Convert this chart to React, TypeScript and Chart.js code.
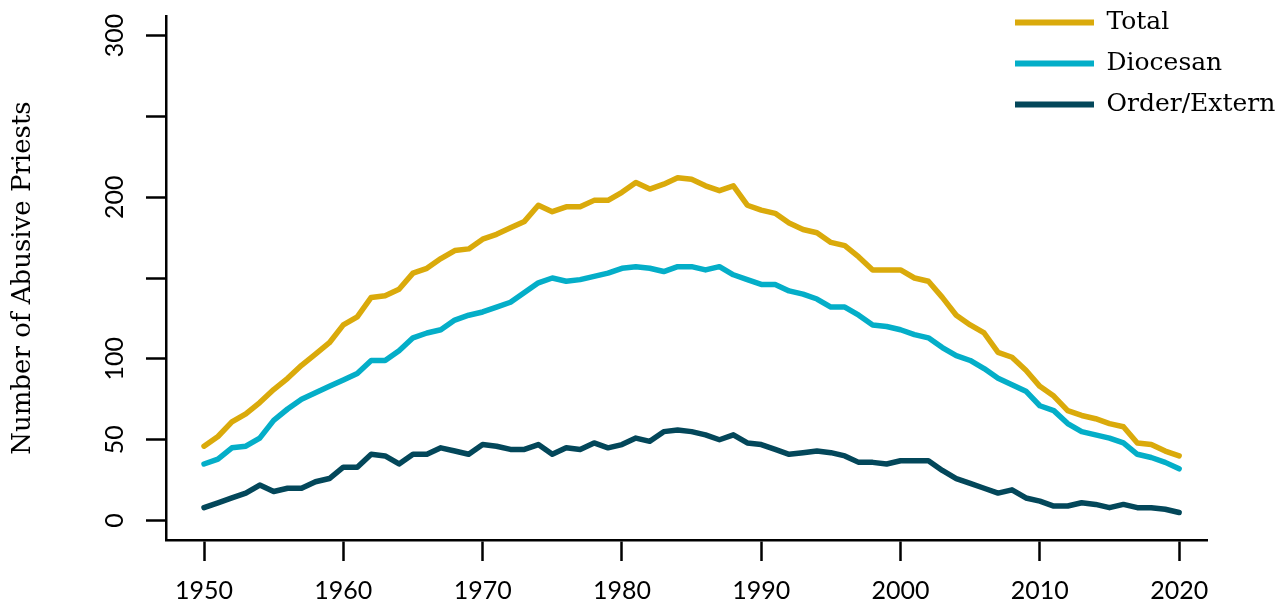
import { useEffect, useRef } from "react";
import { Chart, registerables } from "chart.js";

Chart.register(...registerables);

const years = [
  1950, 1951, 1952, 1953, 1954, 1955, 1956, 1957, 1958, 1959,
  1960, 1961, 1962, 1963, 1964, 1965, 1966, 1967, 1968, 1969,
  1970, 1971, 1972, 1973, 1974, 1975, 1976, 1977, 1978, 1979,
  1980, 1981, 1982, 1983, 1984, 1985, 1986, 1987, 1988, 1989,
  1990, 1991, 1992, 1993, 1994, 1995, 1996, 1997, 1998, 1999,
  2000, 2001, 2002, 2003, 2004, 2005, 2006, 2007, 2008, 2009,
  2010, 2011, 2012, 2013, 2014, 2015, 2016, 2017, 2018, 2019, 2020,
];

const totalValues = [
  46, 52, 61, 66, 73, 81, 88, 96, 103, 110,
  121, 126, 138, 139, 143, 153, 156, 162, 167, 168,
  174, 177, 181, 185, 195, 191, 194, 194, 198, 198,
  203, 209, 205, 208, 212, 211, 207, 204, 207, 195,
  192, 190, 184, 180, 178, 172, 170, 163, 155, 155,
  155, 150, 148, 138, 127, 121, 116, 104, 101, 93,
  83, 77, 68, 65, 63, 60, 58, 48, 47, 43, 40,
];

const diocesanValues = [
  35, 38, 45, 46, 51, 62, 69, 75, 79, 83,
  87, 91, 99, 99, 105, 113, 116, 118, 124, 127,
  129, 132, 135, 141, 147, 150, 148, 149, 151, 153,
  156, 157, 156, 154, 157, 157, 155, 157, 152, 149,
  146, 146, 142, 140, 137, 132, 132, 127, 121, 120,
  118, 115, 113, 107, 102, 99, 94, 88, 84, 80,
  71, 68, 60, 55, 53, 51, 48, 41, 39, 36, 32,
];

const orderValues = [
  8, 11, 14, 17, 22, 18, 20, 20, 24, 26,
  33, 33, 41, 40, 35, 41, 41, 45, 43, 41,
  47, 46, 44, 44, 47, 41, 45, 44, 48, 45,
  47, 51, 49, 55, 56, 55, 53, 50, 53, 48,
  47, 44, 41, 42, 43, 42, 40, 36, 36, 35,
  37, 37, 37, 31, 26, 23, 20, 17, 19, 14,
  12, 9, 9, 11, 10, 8, 10, 8, 8, 7, 5,
];

const seriesNames = ["Total", "Diocesan", "Order/Extern"];
const seriesColors = ["#DAAA0B", "#04AEC8", "#03475A"];

const xTickValues = [1950, 1960, 1970, 1980, 1990, 2000, 2010, 2020];
const yTickValues = [0, 50, 100, 150, 200, 250, 300];
const yTickLabelsShown = [0, 50, 100, 200, 300];

const yAxisTitle = "Number of Abusive Priests";

export default function App() {
  const canvasRef = useRef<HTMLCanvasElement | null>(null);

  useEffect(() => {
    const canvas = canvasRef.current;
    if (!canvas) return;

    const toPoints = (vals: number[]) => years.map((yr, i) => ({ x: yr, y: vals[i] }));
    const seriesValues = [totalValues, diocesanValues, orderValues];

    const legendPadding = 16;
    const legendMover = {
      id: "legendMover",
      afterLayout(chart: any) {
        const lg = chart.legend;
        if (lg) {
          lg.left = 1015 - legendPadding;
          lg.top = -6;
          lg.right = 1282;
          lg.bottom = 300;
          lg.width = lg.right - lg.left;
          lg.height = lg.bottom - lg.top;
        }
      },
    };

    const chart = new Chart(canvas, {
      type: "line",
      data: {
        datasets: seriesNames.map((name, i) => ({
          label: name,
          data: toPoints(seriesValues[i]),
          borderColor: seriesColors[i],
          backgroundColor: seriesColors[i],
          borderWidth: 5.5,
          pointRadius: 0,
          tension: 0,
          borderJoinStyle: "round" as const,
          borderCapStyle: "round" as const,
          order: 3 - i,
        })),
      },
      options: {
        responsive: false,
        animation: false,
        devicePixelRatio: 1,
        layout: { padding: { left: 0, top: 16, right: 75, bottom: 2 } },
        plugins: {
          tooltip: { enabled: false },
          legend: {
            display: true,
            position: "chartArea" as any,
            align: "start",
            labels: {
              boxWidth: 79,
              boxHeight: 6,
              padding: legendPadding,
              color: "#000",
              font: { family: "'DejaVu Serif', serif", size: 25 },
              generateLabels: (ch: any) =>
                ch.data.datasets.map((ds: any, i: number) => ({
                  text: ds.label,
                  fillStyle: ds.borderColor,
                  strokeStyle: ds.borderColor,
                  lineWidth: 0,
                  hidden: false,
                  datasetIndex: i,
                })),
            },
          },
        },
        scales: {
          x: {
            type: "linear",
            min: 1947.27,
            max: 2022,
            afterBuildTicks: (axis: any) => {
              axis.ticks = xTickValues.map((v) => ({ value: v }));
            },
            afterFit: (scale: any) => {
              scale.height = 65;
              scale.paddingLeft = 0;
              scale.paddingRight = 0;
            },
            ticks: {
              autoSkip: false,
              maxRotation: 0,
              minRotation: 0,
              padding: 15,
              color: "#000",
              font: { family: "Lato, sans-serif", size: 25 },
              callback: (v: any) => String(v),
            },
            grid: {
              display: true,
              drawOnChartArea: false,
              drawTicks: true,
              tickLength: 21,
              tickColor: "#000",
              tickWidth: 2.5,
            },
            border: { display: true, color: "#000", width: 2.5 },
          },
          y: {
            type: "linear",
            min: -12,
            max: 312,
            afterBuildTicks: (axis: any) => {
              axis.ticks = yTickValues.map((v) => ({ value: v }));
            },
            afterFit: (scale: any) => {
              scale.width = 166;
              scale.paddingTop = 0;
              scale.paddingBottom = 0;
            },
            ticks: {
              autoSkip: false,
              minRotation: 90,
              maxRotation: 90,
              crossAlign: "center",
              padding: 9,
              color: "#000",
              font: { family: "Lato, sans-serif", size: 25 },
              callback: (v: any) => (yTickLabelsShown.includes(Number(v)) ? String(v) : ""),
            },
            grid: {
              display: true,
              drawOnChartArea: false,
              drawTicks: true,
              tickLength: 20,
              tickColor: "#000",
              tickWidth: 2.5,
            },
            border: { display: true, color: "#000", width: 2.5 },
            title: {
              display: true,
              text: yAxisTitle,
              color: "#000",
              font: { family: "'DejaVu Serif', serif", size: 26 },
              padding: { top: 8, bottom: 0 },
            },
          },
        },
      },
      plugins: [legendMover],
    } as any);

    return () => chart.destroy();
  }, []);

  return (
    <div
      style={{
        position: "absolute",
        left: 0,
        top: 0,
        width: 1282,
        height: 607,
        background: "#fff",
      }}
    >
      <canvas ref={canvasRef} width={1282} height={607} />
    </div>
  );
}
